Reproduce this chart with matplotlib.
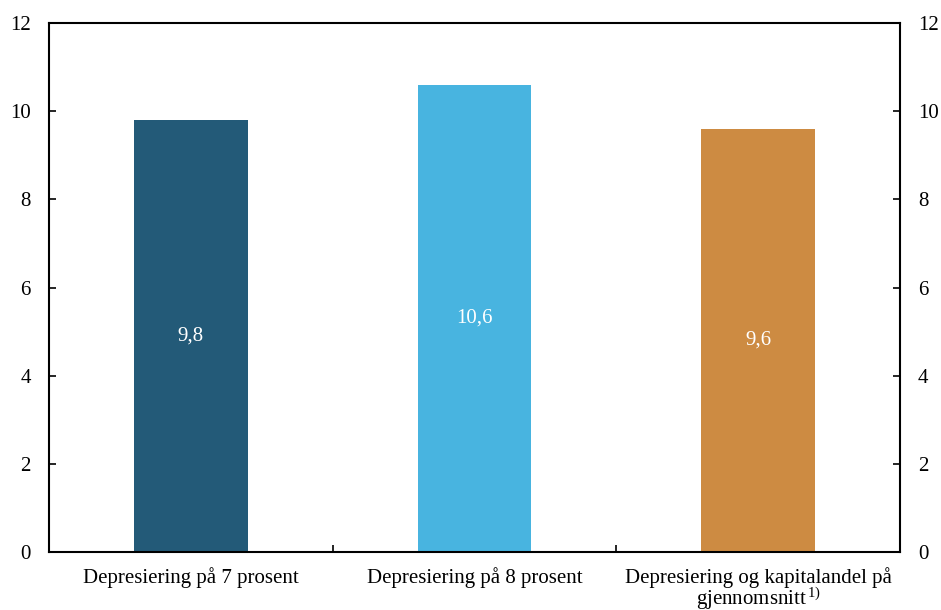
import numpy as np
import matplotlib.pyplot as plt

plt.rcParams['font.family'] = ['Liberation Serif', 'DejaVu Serif']
plt.rcParams['mathtext.fontset'] = 'custom'
plt.rcParams['mathtext.rm'] = 'Liberation Serif'
plt.rcParams['mathtext.it'] = 'Liberation Serif'

categories = ['Depresiering på 7 prosent',
              'Depresiering på 8 prosent',
              'Depresiering og kapitalandel på\ngjennomsnitt$^{\\,\\mathrm{1)}}$']
values = [9.8, 10.6, 9.6]
value_labels = ['9,8', '10,6', '9,6']
colors = ['#235A78', '#48B4E0', '#CD8B42']

fig = plt.figure(figsize=(9.41, 6.1), dpi=100)
ax = fig.add_axes([0.052, 0.095, 0.9045, 0.867])

x = np.arange(len(categories))
ax.bar(x, values, width=0.4, color=colors, zorder=2)
for xi, v, lab in zip(x, values, value_labels):
    ax.text(xi, v / 2, lab, ha='center', va='center', color='white', fontsize=15)

ax.set_xlim(-0.5, 2.5)
ax.set_ylim(0, 12)
ax.set_yticks(range(0, 13, 2))
ax.set_xticks(x)
ax.set_xticklabels(categories, fontsize=15, linespacing=0.85)
ax.tick_params(axis='x', length=0, pad=11)
ax.set_xticks([0.5, 1.5], minor=True)
ax.tick_params(axis='x', which='minor', direction='in', length=5, width=1.2)
ax.tick_params(axis='y', direction='in', length=5, width=1.2, labelsize=15,
               pad=13, right=True, labelright=True)
for s in ax.spines.values():
    s.set_linewidth(1.5)

fig.savefig('out.png', dpi=100)
